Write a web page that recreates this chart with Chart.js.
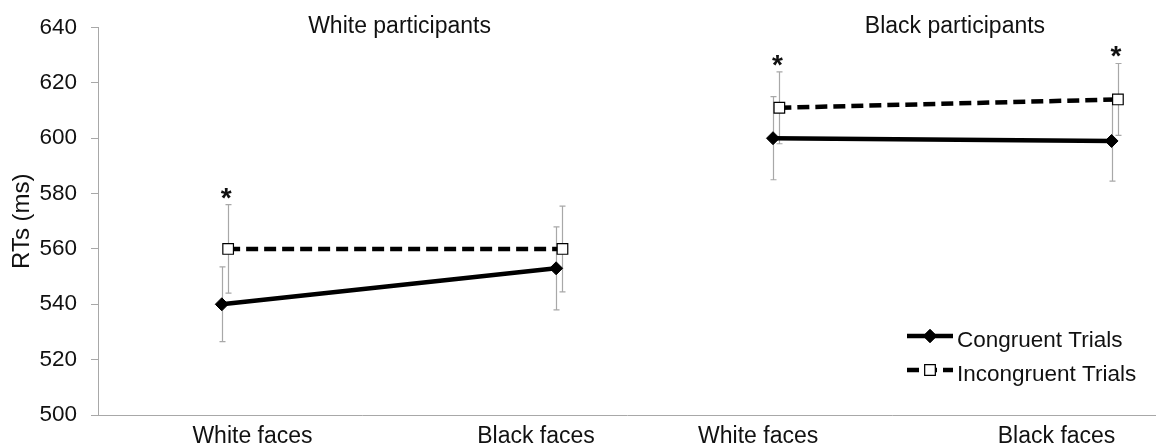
<!DOCTYPE html>
<html>
<head>
<meta charset="utf-8">
<script src="https://cdn.jsdelivr.net/npm/chart.js@4"></script>
<style>
  html, body { margin: 0; padding: 0; background: #fff; }
</style>
</head>
<body>
<canvas id="myChart" width="1156" height="448"></canvas>
<script>
// values
const categories = ['White faces', 'Black faces', 'White faces', 'Black faces'];
const groups = ['White participants', 'Black participants'];
const congruent = [540, 553, 600, 599];
const congruentErr = [13.5, 15, 15, 14.5];
const incongruent = [560, 560, 611, 614];
const incongruentErr = [16, 15.5, 13, 13];
const significant = [true, false, true, true]; // asterisk above incongruent point
const yTicks = { min: 500, max: 640, step: 20 };

// where things sit along the x axis (axis units, 0..10)
const catX = [1.17, 4.33, 6.38, 9.58];
const labelX = [1.46, 4.14, 6.24, 9.06];
const groupX = [2.85, 8.10];
const shift = 0.06; // incongruent markers sit a little to the right

const FONT = "'Liberation Sans', Arial, sans-serif";
const TXT = '#111';
const AXIS = '#a8a8a8';

function series(vals, dx) {
    const pts = vals.map((v, i) => ({ x: catX[i] + dx, y: v }));
    // break the line between the two participant groups
    pts.splice(2, 0, { x: (catX[1] + catX[2]) / 2, y: null });
    return pts;
}

const extras = {
    id: 'extras',
    beforeDatasetsDraw(chart) {
        const { ctx } = chart;
        const xs = chart.scales.x, ys = chart.scales.y;
        ctx.save();
        ctx.strokeStyle = AXIS;
        ctx.lineWidth = 1.2;
        [[congruent, congruentErr, 0], [incongruent, incongruentErr, shift]].forEach(([vals, errs, dx]) => {
            vals.forEach((v, i) => {
                const px = Math.round(xs.getPixelForValue(catX[i] + dx)) + 0.5;
                const top = ys.getPixelForValue(v + errs[i]);
                const bot = ys.getPixelForValue(v - errs[i]);
                ctx.beginPath();
                ctx.moveTo(px, top); ctx.lineTo(px, bot);
                ctx.moveTo(px - 3, top); ctx.lineTo(px + 3, top);
                ctx.moveTo(px - 3, bot); ctx.lineTo(px + 3, bot);
                ctx.stroke();
            });
        });
        ctx.restore();
    },
    afterDraw(chart) {
        const { ctx, chartArea } = chart;
        const xs = chart.scales.x, ys = chart.scales.y;
        ctx.save();
        ctx.fillStyle = TXT;
        ctx.textAlign = 'center';
        ctx.textBaseline = 'alphabetic';

        // group titles
        ctx.font = '23px ' + FONT;
        groups.forEach((g, i) => ctx.fillText(g, xs.getPixelForValue(groupX[i]), chartArea.top + 5));

        // significance stars
        ctx.font = 'bold 28px ' + FONT;
        significant.forEach((s, i) => {
            if (!s) return;
            const px = xs.getPixelForValue(catX[i] + shift) - 2;
            const top = ys.getPixelForValue(incongruent[i] + incongruentErr[i]);
            ctx.fillText('*', px, top + 2);
        });

        // legend, bottom right of the plot
        const x0 = chartArea.right - 249, w = 46;
        const rows = [chartArea.bottom - 79, chartArea.bottom - 45];
        chart.data.datasets.forEach((ds, i) => {
            const yy = rows[i];
            ctx.save();
            ctx.strokeStyle = ds.borderColor;
            ctx.lineWidth = ds.borderWidth;
            ctx.setLineDash(ds.borderDash || []);
            ctx.beginPath();
            ctx.moveTo(x0, yy); ctx.lineTo(x0 + w, yy);
            ctx.stroke();
            ctx.restore();
            Chart.helpers.drawPoint(ctx, {
                pointStyle: ds.pointStyle,
                radius: ds.pointRadius,
                borderWidth: ds.pointBorderWidth
            }, x0 + w / 2, yy);
            ctx.fillStyle = ds.pointBackgroundColor;
            ctx.strokeStyle = ds.pointBorderColor;
            ctx.lineWidth = ds.pointBorderWidth;
            ctx.fill();
            ctx.stroke();
            ctx.fillStyle = TXT;
            ctx.font = '22.5px ' + FONT;
            ctx.textAlign = 'left';
            ctx.textBaseline = 'middle';
            ctx.fillText(ds.label, x0 + w + 4, yy + 5);
        });
        ctx.restore();
    }
};

new Chart(document.getElementById('myChart'), {
    type: 'line',
    data: {
        datasets: [
            {
                label: 'Congruent Trials',
                data: series(congruent, 0),
                borderColor: '#000',
                borderWidth: 4.5,
                pointStyle: 'rectRot',
                pointRadius: 6.5,
                pointBackgroundColor: '#000',
                pointBorderColor: '#000',
                pointBorderWidth: 1
            },
            {
                label: 'Incongruent Trials',
                data: series(incongruent, shift),
                borderColor: '#000',
                borderWidth: 4.5,
                borderDash: [12, 6],
                pointStyle: 'rect',
                pointRadius: 7.5,
                pointBackgroundColor: '#fff',
                pointBorderColor: '#000',
                pointBorderWidth: 1.2
            }
        ]
    },
    options: {
        responsive: false,
        animation: false,
        spanGaps: false,
        layout: { autoPadding: false, padding: { top: 22, right: 0, left: 0, bottom: 0 } },
        plugins: {
            legend: { display: false },
            tooltip: { enabled: false }
        },
        scales: {
            x: {
                type: 'linear',
                min: 0,
                max: 10,
                afterBuildTicks: (scale) => {
                    scale.ticks = labelX.map(v => ({ value: v }));
                },
                afterFit: (scale) => { scale.height = 33; },
                ticks: {
                    autoSkip: false,
                    maxRotation: 0,
                    padding: 8,
                    color: TXT,
                    font: { family: FONT, size: 23 },
                    callback: (v, i) => categories[i]
                },
                grid: { display: false, drawTicks: false },
                border: { color: AXIS, width: 1 }
            },
            y: {
                min: yTicks.min,
                max: yTicks.max,
                afterFit: (scale) => { scale.width = 98; },
                ticks: {
                    stepSize: yTicks.step,
                    padding: 14,
                    color: TXT,
                    font: { family: FONT, size: 22.5 }
                },
                grid: { drawOnChartArea: false, drawTicks: true, tickLength: 7, color: AXIS },
                border: { color: AXIS, width: 1 },
                title: {
                    display: true,
                    text: 'RTs (ms)',
                    color: TXT,
                    font: { family: FONT, size: 24 },
                    padding: { top: 8, bottom: 0 }
                }
            }
        }
    },
    plugins: [extras]
});
</script>
</body>
</html>
